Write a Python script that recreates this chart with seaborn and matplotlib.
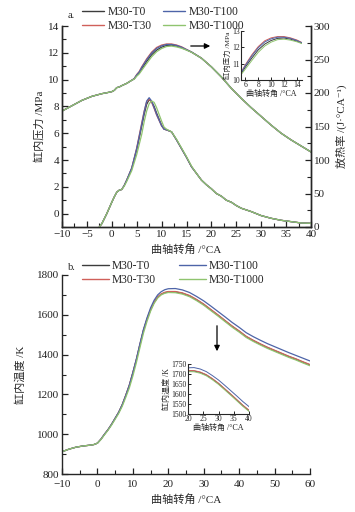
import numpy as np
import pandas as pd
import matplotlib
matplotlib.use("Agg")
import matplotlib.pyplot as plt
from matplotlib.lines import Line2D
from matplotlib.ticker import MultipleLocator
import seaborn as sns

# ---------------- data ----------------
series = ["M30-T0", "M30-T30", "M30-T100", "M30-T1000"]
colors = ["#3c3c3c", "#d0605a", "#4d64a8", "#8fc46f"]

ang_p = [-10, -8, -6, -4, -2, -1, 0, 0.5, 1, 1.5, 2, 3, 4, 4.5, 5, 5.5, 6, 7, 8, 9, 10,
         11, 12, 13, 14, 15, 16, 18, 20, 22, 24, 26, 28, 30, 32, 34, 36, 38, 40]
p_T0 = [7.65, 8.05, 8.45, 8.75, 8.95, 9.02, 9.1, 9.2, 9.4, 9.45, 9.55, 9.72, 9.95, 10.05,
        10.3, 10.5, 10.8, 11.35, 11.85, 12.2, 12.42, 12.55, 12.57, 12.5, 12.38, 12.22,
        12.05, 11.6, 10.95, 10.2, 9.35, 8.6, 7.9, 7.25, 6.6, 6.0, 5.5, 5.05, 4.6]
p_T30 = [7.65, 8.05, 8.45, 8.75, 8.95, 9.02, 9.1, 9.2, 9.4, 9.45, 9.55, 9.72, 9.95, 10.08,
         10.38, 10.6, 10.95, 11.55, 12.05, 12.4, 12.58, 12.66, 12.66, 12.58, 12.45, 12.25,
         12.06, 11.6, 10.95, 10.2, 9.35, 8.6, 7.9, 7.25, 6.6, 6.0, 5.5, 5.05, 4.6]
p_T100 = [7.65, 8.05, 8.45, 8.75, 8.95, 9.02, 9.1, 9.2, 9.4, 9.45, 9.55, 9.72, 9.95, 10.07,
          10.35, 10.56, 10.9, 11.48, 11.98, 12.33, 12.52, 12.62, 12.62, 12.55, 12.42, 12.24,
          12.06, 11.6, 10.95, 10.2, 9.35, 8.6, 7.9, 7.25, 6.6, 6.0, 5.5, 5.05, 4.6]
p_T1000 = [7.65, 8.05, 8.45, 8.75, 8.95, 9.02, 9.1, 9.2, 9.4, 9.45, 9.55, 9.72, 9.95, 10.03,
           10.25, 10.42, 10.68, 11.2, 11.7, 12.08, 12.32, 12.47, 12.5, 12.44, 12.34, 12.2,
           12.04, 11.6, 10.95, 10.2, 9.35, 8.6, 7.9, 7.25, 6.6, 6.0, 5.5, 5.05, 4.6]

ang_h = [-2.5, -2, -1, 0, 0.5, 1, 1.5, 2, 2.5, 3, 4, 5, 6, 6.5, 7, 7.5, 8, 8.5, 9, 10, 10.5,
         11, 12, 13, 14, 15, 16, 17, 18, 19, 20, 21, 22, 23, 24, 25, 26, 28, 30, 32, 34, 36,
         38, 40]
h_T0 = [0, 5, 20, 37, 45, 52, 55, 56, 62, 70, 87, 115, 150, 168, 183, 190, 187, 180, 170,
        152, 146, 145, 142, 130, 117, 104, 90, 80, 70, 63, 57, 50, 46, 40, 37, 32, 28, 23,
        17, 13, 10, 8, 6, 5.5]
h_T30 = [0, 5, 20, 37, 45, 52, 55, 56, 62, 70, 88, 118, 155, 173, 187, 191, 186, 177, 167,
         151, 146, 145, 142, 130, 117, 104, 90, 80, 70, 63, 57, 50, 46, 40, 37, 32, 28, 23,
         17, 13, 10, 8, 6, 5.5]
h_T100 = [0, 5, 20, 37, 45, 52, 55, 56, 62, 70, 88, 117, 153, 172, 188, 193, 188, 178, 168,
          151, 146, 145, 142, 130, 117, 104, 90, 80, 70, 63, 57, 50, 46, 40, 37, 32, 28, 23,
          17, 13, 10, 8, 6, 5.5]
h_T1000 = [0, 5, 20, 37, 45, 52, 55, 56, 61, 68, 84, 108, 138, 157, 173, 184, 188, 186, 178,
           158, 149, 146, 142, 131, 118, 105, 91, 80, 70, 63, 57, 50, 46, 40, 37, 32, 28, 23,
           17, 13, 10, 8, 6, 5.5]

ang_t = [-10, -8, -6, -4, -2, -1, 0, 1, 2, 3, 4, 5, 6, 7, 8, 9, 10, 11, 12, 13, 14, 15, 16,
         17, 18, 19, 20, 22, 24, 26, 28, 30, 32, 34, 36, 38, 40, 42, 44, 46, 48, 50, 52, 54,
         56, 58, 60]
t_T0 = [912, 925, 935, 941, 945, 948, 955, 975, 1000, 1023, 1050, 1080, 1110, 1148, 1195,
        1245, 1308, 1375, 1450, 1522, 1578, 1625, 1662, 1688, 1703, 1711, 1715, 1715, 1708,
        1695, 1675, 1652, 1625, 1598, 1570, 1542, 1517, 1490, 1470, 1452, 1435, 1420, 1405,
        1390, 1377, 1362, 1348]
t_T30 = [912, 925, 935, 941, 945, 948, 955, 975, 1000, 1023, 1050, 1080, 1110, 1148, 1196,
         1247, 1310, 1377, 1452, 1524, 1580, 1627, 1664, 1690, 1705, 1713, 1717, 1717, 1710,
         1697, 1677, 1654, 1627, 1600, 1572, 1544, 1519, 1492, 1472, 1454, 1437, 1422, 1407,
         1392, 1379, 1364, 1350]
t_T100 = [912, 925, 935, 941, 945, 948, 955, 975, 1000, 1023, 1050, 1080, 1110, 1148, 1195,
          1246, 1310, 1378, 1455, 1527, 1585, 1635, 1673, 1700, 1716, 1726, 1731, 1732, 1725,
          1712, 1692, 1670, 1644, 1617, 1590, 1562, 1537, 1510, 1490, 1472, 1455, 1440, 1425,
          1410, 1396, 1382, 1368]
t_T1000 = [912, 925, 935, 941, 945, 948, 955, 973, 997, 1020, 1046, 1075, 1104, 1140, 1185,
           1232, 1292, 1360, 1435, 1508, 1567, 1618, 1657, 1684, 1700, 1708, 1712, 1711, 1704,
           1691, 1671, 1648, 1621, 1594, 1566, 1538, 1513, 1486, 1466, 1448, 1431, 1416, 1401,
           1386, 1373, 1358, 1344]


def long_df(x, ys):
    frames = [pd.DataFrame({"x": x, "y": y, "s": name}) for name, y in zip(series, ys)]
    return pd.concat(frames, ignore_index=True)


df_p = long_df(ang_p, [p_T0, p_T30, p_T100, p_T1000])
df_h = long_df(ang_h, [h_T0, h_T30, h_T100, h_T1000])
df_t = long_df(ang_t, [t_T0, t_T30, t_T100, t_T1000])

# ---------------- style ----------------
sns.set_style("ticks")
plt.rcParams["font.family"] = ["Liberation Serif", "Noto Sans CJK SC", "DejaVu Serif"]
plt.rcParams["axes.unicode_minus"] = True
plt.rcParams["axes.linewidth"] = 1.0
plt.rcParams["xtick.color"] = "#222222"
plt.rcParams["ytick.color"] = "#222222"

pal = dict(zip(series, colors))
FS = 8
W, H = 355, 512

fig = plt.figure(figsize=(W / 100, H / 100), dpi=100)


def fx(px):
    return px / W


def fy(py):
    return 1 - py / H


def style_ticks(ax, size=FS, xpad=2):
    ax.tick_params(axis="both", which="both", direction="in", labelsize=size, pad=2)
    ax.tick_params(axis="x", which="both", pad=xpad)
    ax.tick_params(which="major", length=4, width=0.9)
    ax.tick_params(which="minor", length=3, width=0.8)


# ---------------- panel a ----------------
ax1 = fig.add_axes([fx(62), fy(227), fx(311) - fx(62), fy(26) - fy(227)])
sns.lineplot(data=df_p, x="x", y="y", hue="s", palette=pal, ax=ax1, legend=False,
             estimator=None, sort=False, linewidth=0.9)
ax1.set_xlim(-10, 40)
ax1.set_ylim(-1, 14)
ax1.xaxis.set_major_locator(MultipleLocator(5))
ax1.xaxis.set_minor_locator(MultipleLocator(2.5))
ax1.yaxis.set_major_locator(MultipleLocator(2))
ax1.yaxis.set_minor_locator(MultipleLocator(1))
style_ticks(ax1, xpad=2.5)
ax1.spines["top"].set_visible(False)
ax1.set_xlabel("曲轴转角 /°CA", fontsize=FS, labelpad=3)
ax1.set_ylabel("缸内压力 /MPa", fontsize=FS, labelpad=2)

ax1r = ax1.twinx()
sns.lineplot(data=df_h, x="x", y="y", hue="s", palette=pal, ax=ax1r, legend=False,
             estimator=None, sort=False, linewidth=0.9)
ax1r.set_ylim(0, 300)
ax1r.yaxis.set_major_locator(MultipleLocator(50))
ax1r.yaxis.set_minor_locator(MultipleLocator(25))
style_ticks(ax1r)
ax1r.spines["top"].set_visible(False)
ax1r.set_ylabel("放热率 /(J·°CA⁻¹)", fontsize=FS, labelpad=4)
ax1r.set_xlabel("")

# inset a
ins1 = fig.add_axes([fx(241), fy(80), fx(302) - fx(241), fy(31) - fy(80)])
sns.lineplot(data=df_p, x="x", y="y", hue="s", palette=pal, ax=ins1, legend=False,
             estimator=None, sort=False, linewidth=0.7)
ins1.set_xlim(5.3, 14.8)
ins1.set_ylim(10, 13)
ins1.xaxis.set_major_locator(MultipleLocator(2))
ins1.yaxis.set_major_locator(MultipleLocator(1))
ins1.tick_params(axis="both", which="both", direction="in", labelsize=5.5, pad=1,
                 length=2, width=0.7)
for s in ["top", "right"]:
    ins1.spines[s].set_visible(False)
for s in ["left", "bottom"]:
    ins1.spines[s].set_linewidth(0.8)
ins1.set_xlabel("曲轴转角 /°CA", fontsize=5.8, labelpad=0.5)
ins1.set_ylabel("缸内压力 /MPa", fontsize=5.3, labelpad=0.5)

# ---------------- panel b ----------------
ax2 = fig.add_axes([fx(62), fy(474), fx(310) - fx(62), fy(275) - fy(474)])
sns.lineplot(data=df_t, x="x", y="y", hue="s", palette=pal, ax=ax2, legend=False,
             estimator=None, sort=False, linewidth=0.9)
ax2.set_xlim(-10, 60)
ax2.set_ylim(800, 1800)
ax2.xaxis.set_major_locator(MultipleLocator(10))
ax2.xaxis.set_minor_locator(MultipleLocator(5))
ax2.yaxis.set_major_locator(MultipleLocator(200))
ax2.yaxis.set_minor_locator(MultipleLocator(100))
style_ticks(ax2, xpad=4)
for s in ["top", "right"]:
    ax2.spines[s].set_visible(False)
ax2.set_xlabel("曲轴转角 /°CA", fontsize=FS, labelpad=4)
ax2.set_ylabel("缸内温度 /K", fontsize=FS, labelpad=8)

# inset b
ins2 = fig.add_axes([fx(188), fy(414), fx(249) - fx(188), fy(364) - fy(414)])
sns.lineplot(data=df_t, x="x", y="y", hue="s", palette=pal, ax=ins2, legend=False,
             estimator=None, sort=False, linewidth=0.7)
ins2.set_xlim(20, 40)
ins2.set_ylim(1500, 1750)
ins2.xaxis.set_major_locator(MultipleLocator(5))
ins2.yaxis.set_major_locator(MultipleLocator(50))
ins2.tick_params(axis="both", which="both", direction="in", labelsize=5.5, pad=1,
                 length=2, width=0.7)
for s in ["top", "right"]:
    ins2.spines[s].set_visible(False)
for s in ["left", "bottom"]:
    ins2.spines[s].set_linewidth(0.8)
ins2.set_xlabel("曲轴转角 /°CA", fontsize=5.8, labelpad=0.5)
ins2.set_ylabel("缸内温度 /K", fontsize=5.8, labelpad=0.5)

# ---------------- legends ----------------
handles = [Line2D([], [], color=c, lw=1.0) for c in colors]
leg_kw = dict(ncol=2, frameon=False, fontsize=8.3, handlelength=1.9, handletextpad=0.3,
              labelspacing=0.15, borderpad=0, borderaxespad=0, loc="upper left")
fig.legend(handles, series, bbox_to_anchor=(fx(82), fy(6)), columnspacing=1.0, **leg_kw)
leg_kw["handlelength"] = 2.3
fig.legend(handles, series, bbox_to_anchor=(fx(82), fy(260)), columnspacing=2.0, **leg_kw)

fig.text(fx(68), fy(15), "a.", fontsize=7.5, va="center", ha="left")
fig.text(fx(68), fy(267), "b.", fontsize=7.5, va="center", ha="left")

# arrows
fig.add_artist(matplotlib.patches.FancyArrowPatch(
    (fx(188), fy(46)), (fx(213), fy(46)), transform=fig.transFigure,
    arrowstyle="-|>", mutation_scale=8, color="black", lw=0.9))
fig.add_artist(matplotlib.patches.FancyArrowPatch(
    (fx(217), fy(323)), (fx(217), fy(354)), transform=fig.transFigure,
    arrowstyle="-|>", mutation_scale=8, color="black", lw=0.9))

fig.savefig("out.png", dpi=100)
